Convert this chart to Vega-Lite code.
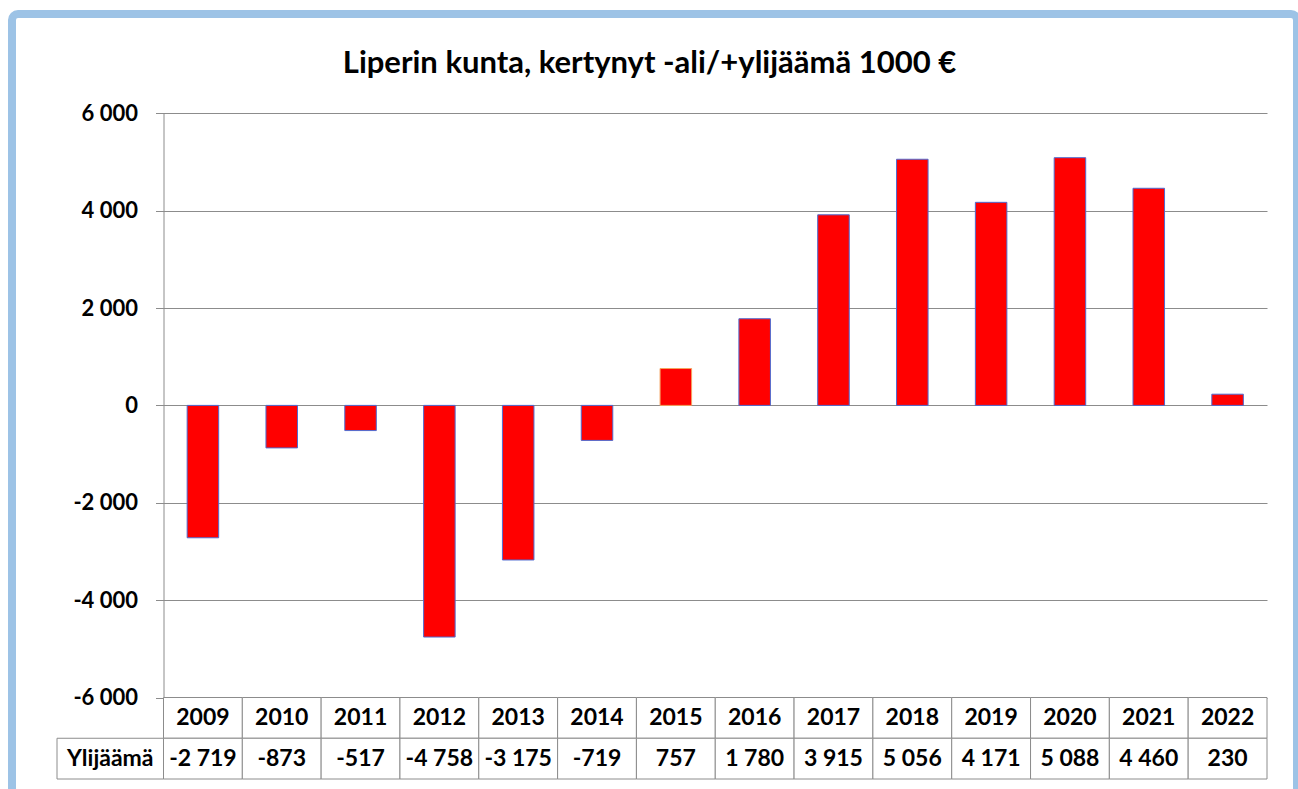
{
  "$schema": "https://vega.github.io/schema/vega-lite/v6.json",
  "width": 1285,
  "height": 790,
  "autosize": {"type": "none"},
  "padding": {"left": 12, "top": 14, "right": 1, "bottom": -15},
  "background": "white",
  "config": {
    "view": {"stroke": "#9DC3E6", "strokeWidth": 8, "cornerRadius": 6, "fill": "white"},
    "locale": {"number": {"decimal": ",", "thousands": " ", "grouping": [3], "currency": ["", " €"], "minus": "-"}},
    "font": "Lato"
  },
  "title": {
    "text": "Liperin kunta, kertynyt -ali/+ylijäämä 1000 €",
    "font": "Lato", "fontSize": 31, "fontWeight": "bold", "color": "black",
    "anchor": "middle", "frame": "group", "offset": -66, "dx": -5
  },
  "datasets": {
    "main": [
      {"year": "2009", "value": -2719},
      {"year": "2010", "value": -873},
      {"year": "2011", "value": -517},
      {"year": "2012", "value": -4758},
      {"year": "2013", "value": -3175},
      {"year": "2014", "value": -719},
      {"year": "2015", "value": 757},
      {"year": "2016", "value": 1780},
      {"year": "2017", "value": 3915},
      {"year": "2018", "value": 5056},
      {"year": "2019", "value": 4171},
      {"year": "2020", "value": 5088},
      {"year": "2021", "value": 4460},
      {"year": "2022", "value": 230}
    ],
    "label": [{"label": "Ylijäämä"}]
  },
  "layer": [
    {
      "data": {"name": "main"},
      "mark": {"type": "bar", "fill": "#FF0000", "strokeWidth": 1},
      "encoding": {
        "x": {"field": "year", "type": "ordinal", "scale": {"type": "band", "range": [151.5, 1255], "paddingInner": 0.6, "paddingOuter": 0.3}, "axis": null},
        "y": {
          "field": "value", "type": "quantitative",
          "scale": {"domain": [-6000, 6000], "range": [683.5, 99.3], "nice": false, "zero": true},
          "axis": {
            "orient": "left", "offset": -151.5, "values": [-6000, -4000, -2000, 0, 2000, 4000, 6000],
            "format": ",.0f", "grid": true, "gridColor": "#8C8C8C", "gridWidth": 1,
            "domain": true, "domainColor": "#8C8C8C", "domainWidth": 1,
            "ticks": true, "tickColor": "#8C8C8C", "tickSize": 8,
            "labelFont": "Lato", "labelFontSize": 22, "labelFontWeight": "bold", "labelColor": "black",
            "labelPadding": 18, "title": null, "labelFlush": false, "labelOverlap": false, "labelBound": false
          }
        },
        "stroke": {"condition": {"test": "datum.year === '2015'", "value": "#F4A460"}, "value": "#4F6BD0"}
      }
    },
    {
      "data": {"name": "main"},
      "encoding": {
        "x": {"field": "year", "type": "ordinal", "scale": {"type": "band", "range": [151.5, 1255], "paddingInner": 0, "paddingOuter": 0}, "axis": null}
      },
      "layer": [
        {
          "mark": {"type": "rect", "fill": "white", "stroke": "#8C8C8C", "strokeWidth": 1},
          "encoding": {"y": {"datum": "r1", "type": "nominal", "scale": {"type": "band", "domain": ["r1", "r2"], "range": [683.5, 765], "paddingInner": 0, "paddingOuter": 0}, "axis": null}}
        },
        {
          "mark": {"type": "rect", "fill": "white", "stroke": "#8C8C8C", "strokeWidth": 1},
          "encoding": {"y": {"datum": "r2", "type": "nominal", "scale": {"type": "band", "domain": ["r1", "r2"], "range": [683.5, 765], "paddingInner": 0, "paddingOuter": 0}, "axis": null}}
        },
        {
          "mark": {"type": "text", "font": "Lato", "fontSize": 23, "fontWeight": "bold", "color": "black"},
          "encoding": {
            "y": {"datum": "r1", "type": "nominal", "scale": {"type": "band", "domain": ["r1", "r2"], "range": [683.5, 765], "paddingInner": 0, "paddingOuter": 0}, "axis": null},
            "text": {"field": "year", "type": "nominal"}
          }
        },
        {
          "mark": {"type": "text", "font": "Lato", "fontSize": 23, "fontWeight": "bold", "color": "black"},
          "encoding": {
            "y": {"datum": "r2", "type": "nominal", "scale": {"type": "band", "domain": ["r1", "r2"], "range": [683.5, 765], "paddingInner": 0, "paddingOuter": 0}, "axis": null},
            "text": {"field": "value", "type": "quantitative", "format": ",.0f"}
          }
        }
      ]
    },
    {
      "data": {"name": "label"},
      "encoding": {
        "x": {"field": "label", "type": "nominal", "scale": {"type": "band", "range": [45, 151.5], "paddingInner": 0, "paddingOuter": 0}, "axis": null},
        "y": {"datum": "r2", "type": "nominal", "scale": {"type": "band", "domain": ["r1", "r2"], "range": [683.5, 765], "paddingInner": 0, "paddingOuter": 0}, "axis": null}
      },
      "layer": [
        {"mark": {"type": "rect", "fill": "white", "stroke": "#8C8C8C", "strokeWidth": 1}},
        {"mark": {"type": "text", "font": "Lato", "fontSize": 23, "fontWeight": "bold", "color": "black"}, "encoding": {"text": {"field": "label", "type": "nominal"}}}
      ]
    }
  ],
  "resolve": {"scale": {"x": "independent", "y": "independent"}}
}
